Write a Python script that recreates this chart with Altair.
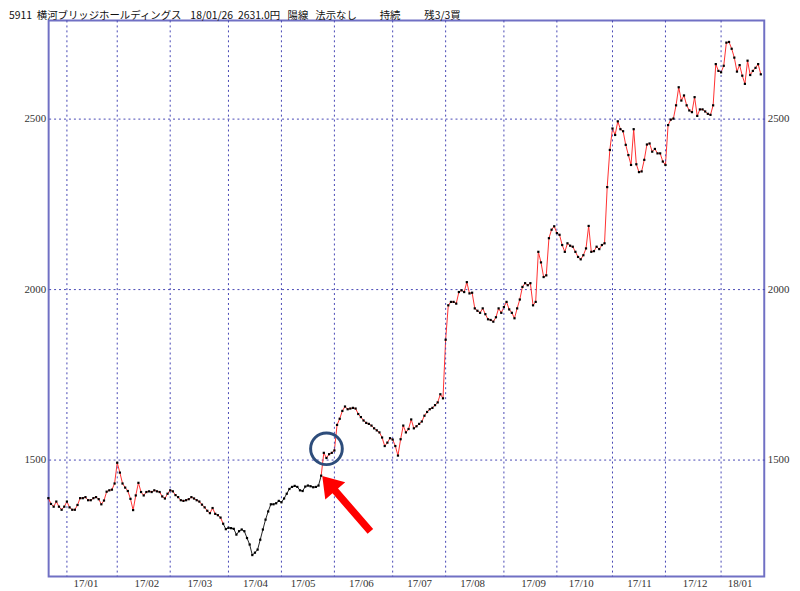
import altair as alt
import pandas as pd

# ---- data (closing prices per trading day) ----
dec16 = [1387, 1370, 1362, 1377, 1362, 1353, 1362]
jan17 = [1377, 1360, 1353, 1353, 1367, 1387, 1387, 1390, 1381, 1381, 1387, 1390, 1384, 1369, 1380, 1406, 1410, 1412, 1430]
feb17 = [1491, 1462, 1430, 1418, 1408, 1385, 1352, 1395, 1432, 1405, 1395, 1405, 1407, 1405, 1410, 1407, 1405, 1392, 1386, 1400]
mar17 = [1410, 1407, 1396, 1390, 1381, 1379, 1381, 1384, 1390, 1386, 1381, 1377, 1368, 1360, 1350, 1343, 1358, 1341, 1337, 1330, 1312, 1296]
apr17 = [1300, 1299, 1297, 1280, 1290, 1295, 1290, 1270, 1251, 1220, 1227, 1236, 1265, 1295, 1324, 1348, 1369, 1369, 1372, 1379]
may17 = [1375, 1386, 1400, 1414, 1420, 1423, 1420, 1410, 1408, 1421, 1424, 1422, 1419, 1420, 1424, 1453, 1520, 1505, 1516, 1520]
jun17 = [1527, 1602, 1620, 1643, 1656, 1648, 1650, 1652, 1650, 1634, 1625, 1615, 1608, 1605, 1600, 1592, 1586, 1580, 1565, 1540, 1550, 1563]
jul17 = [1559, 1540, 1512, 1560, 1600, 1580, 1590, 1618, 1592, 1598, 1605, 1612, 1629, 1640, 1648, 1652, 1660, 1668, 1692, 1680]
aug17 = [1852, 1953, 1963, 1963, 1958, 1992, 1997, 1992, 2021, 1988, 1990, 1944, 1937, 1931, 1944, 1927, 1912, 1910, 1905, 1918, 1944, 1931]
sep17 = [1948, 1963, 1941, 1931, 1915, 1944, 1970, 2007, 2018, 2012, 2018, 1953, 1963, 2110, 2079, 2036, 2041, 2150, 2175, 2185]
oct17 = [2165, 2160, 2130, 2110, 2135, 2128, 2125, 2110, 2095, 2088, 2100, 2120, 2186, 2110, 2112, 2125, 2118, 2130, 2135, 2300, 2409]
nov17 = [2472, 2453, 2493, 2470, 2464, 2424, 2394, 2365, 2470, 2367, 2344, 2346, 2380, 2425, 2428, 2404, 2412, 2399, 2399, 2375]
dec17 = [2365, 2482, 2498, 2501, 2540, 2593, 2554, 2569, 2540, 2525, 2520, 2564, 2509, 2528, 2528, 2522, 2515, 2512, 2540, 2661, 2641]
jan18 = [2637, 2656, 2724, 2726, 2706, 2680, 2639, 2658, 2627, 2603, 2671, 2629, 2641, 2650, 2661, 2631]

month_starts = [0, 19, 39, 61, 81, 101, 123, 143, 165, 185, 206, 226, 247]
label_pos = [7, 30, 50, 71, 89, 111, 133, 153, 176, 194, 216, 237, 254]
month_labels = ["17/01", "17/02", "17/03", "17/04", "17/05", "17/06", "17/07",
                "17/08", "17/09", "17/10", "17/11", "17/12", "18/01"]
y_ticks = [1500, 2000, 2500]

title_parts = ["5911", "横河ブリッジホールディングス", "18/01/26", "2631.0円", "陽線", "法示なし", "持続", "残3/3買"]
title_x = [9, 37, 192, 240, 290, 318, 383, 428]

black_from, black_to = 59, 96   # black-drawn stretch of the line
circle_at = (98, 1532)
arrow_at = (105.5, 1371)

# ---- build tables ----
prices = dec16 + jan17 + feb17 + mar17 + apr17 + may17 + jun17 + jul17 + aug17 + sep17 + oct17 + nov17 + dec17 + jan18
start = -len(dec16)
idx = list(range(start, start + len(prices)))
df = pd.DataFrame({"i": idx, "p": prices})

rows = []
for i, p in zip(idx, prices):
    if i <= black_from:
        rows.append((i, p, "a"))
    if black_from <= i <= black_to:
        rows.append((i, p, "b"))
    if i >= black_to:
        rows.append((i, p, "c"))
seg = pd.DataFrame(rows, columns=["i", "p", "s"])

xscale = alt.Scale(domain=[-6.9, 263.3], nice=False, zero=False)
yscale = alt.Scale(domain=[1157, 2789], nice=False, zero=False)
GRID = "#4646b4"
LABEL_FONT = "Liberation Sans Narrow"

label_expr = "[" + ",".join(f"'{m}'" for m in month_labels) + "][indexof([" + ",".join(str(v) for v in label_pos) + "], datum.value)]"

vgrid = alt.Chart(pd.DataFrame({"m": month_starts})).mark_rule(
    color=GRID, strokeDash=[2, 3], strokeWidth=1
).encode(x=alt.X("m:Q", scale=xscale, axis=None))

line = alt.Chart(seg).mark_line(strokeWidth=1, interpolate="linear").encode(
    x=alt.X("i:Q", scale=xscale, axis=alt.Axis(
        values=label_pos, labelExpr=label_expr, grid=False, ticks=False, domain=False,
        labelPadding=1, labelFontSize=11, labelFont=LABEL_FONT, labelColor="#333333",
        title=None, labelFlush=False, labelOverlap=False)),
    y=alt.Y("p:Q", scale=yscale, axis=alt.Axis(
        orient="left", values=y_ticks, format="d", grid=True, gridDash=[2, 3], gridColor=GRID,
        gridOpacity=1, ticks=False, domain=False, labelPadding=3, labelFontSize=11,
        labelFont=LABEL_FONT, labelColor="#333333", title=None)),
    color=alt.Color("s:N", scale=alt.Scale(domain=["a", "b", "c"],
                                           range=["#ff3030", "#202020", "#ff3030"]), legend=None),
    detail="s:N",
)

dots = alt.Chart(df).mark_square(size=5, color="#000000", opacity=1).encode(
    x=alt.X("i:Q", scale=xscale, axis=None),
    y=alt.Y("p:Q", scale=yscale, axis=alt.Axis(
        orient="right", values=y_ticks, format="d", grid=False, ticks=False, domain=False,
        labelPadding=3, labelFontSize=11, labelFont=LABEL_FONT, labelColor="#333333", title=None)),
)

circle = alt.Chart(pd.DataFrame({"i": [circle_at[0]], "p": [circle_at[1]]})).mark_point(
    shape="circle", filled=False, size=1024, strokeWidth=3, color="#2e4d7b", opacity=1
).encode(x=alt.X("i:Q", scale=xscale, axis=None), y=alt.Y("p:Q", scale=yscale, axis=None))

arrow_path = "M0,-1 L0.36,-0.46 L0.1,-0.46 L0.1,1 L-0.1,1 L-0.1,-0.46 L-0.36,-0.46 Z"
arrow = alt.Chart(pd.DataFrame({"i": [arrow_at[0]], "p": [arrow_at[1]]})).mark_point(
    shape=arrow_path, filled=True, size=5476, angle=319, color="#ff0000", opacity=1, strokeWidth=0
).encode(x=alt.X("i:Q", scale=xscale, axis=None), y=alt.Y("p:Q", scale=yscale, axis=None))

tdf = pd.DataFrame({"t": title_parts, "px": [v - 49 for v in title_x]})
title = alt.Chart(tdf).mark_text(
    align="left", baseline="alphabetic", fontSize=10.5, font="Noto Sans CJK JP", color="#111111"
).encode(x=alt.X("px:Q", scale=None), y=alt.value(-2), text="t:N")

chart = alt.layer(line, vgrid, dots, circle, arrow, title).resolve_axis(
    x="independent", y="independent"
).properties(
    width=722, height=561,
    autosize=alt.AutoSizeParams(type="none"),
    padding={"left": 41, "top": 10, "right": 28, "bottom": 12},
    background="white",
).configure_view(stroke="#7070c4", strokeWidth=2)

chart.save("out.html", embed_options={"renderer": "svg", "actions": False})
